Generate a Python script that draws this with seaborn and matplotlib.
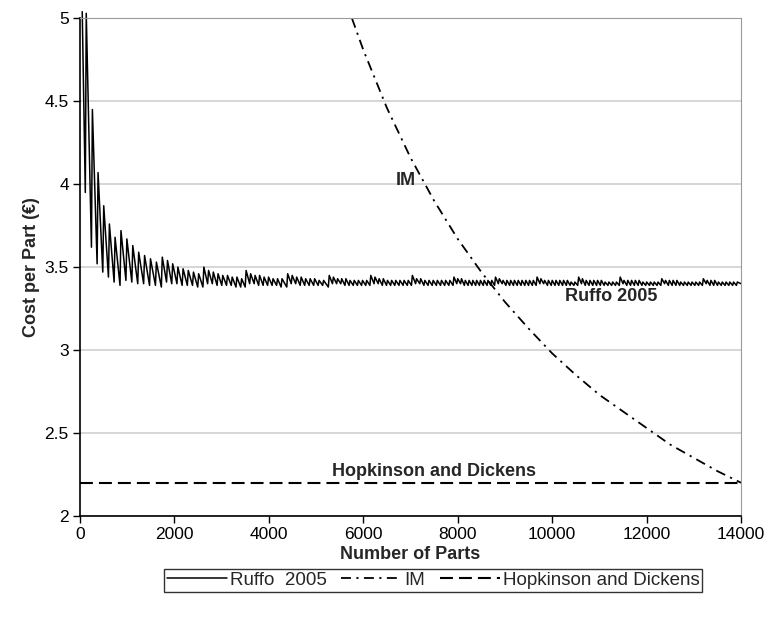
import numpy as np
import pandas as pd
import matplotlib
matplotlib.use("Agg")
import matplotlib.pyplot as plt
import seaborn as sns

# Injection moulding cost per part
im_parts = [5760, 6000, 6500, 7000, 7500, 8000, 8500, 9000, 9500, 10000,
            10500, 11000, 11500, 12000, 12500, 13000, 13500, 14000]
im_cost = [5.00, 4.81, 4.46, 4.16, 3.90, 3.67, 3.47, 3.29, 3.13, 2.98,
           2.85, 2.73, 2.63, 2.53, 2.43, 2.35, 2.27, 2.20]

# Hopkinson and Dickens (flat cost)
hd_parts = [0, 14000]
hd_cost = [2.20, 2.20]

# Ruffo 2005 sawtooth: one list per machine build, tooth start / peak / trough
ruffo_tooth_x = [
    [50, 135, 265, 385, 505, 625, 745],
    [870, 995, 1120, 1245, 1370, 1495, 1620],
    [1745, 1855, 1965, 2075, 2185, 2295, 2405, 2515],
    [2625, 2725, 2825, 2925, 3025, 3125, 3225, 3325, 3425],
    [3520, 3615, 3710, 3805, 3900, 3995, 4090, 4185, 4280],
    [4400, 4495, 4590, 4685, 4780, 4875, 4970, 5065, 5160],
    [5280, 5368, 5456, 5544, 5632, 5720, 5808, 5896, 5984, 6072],
    [6160, 6248, 6336, 6424, 6512, 6600, 6688, 6776, 6864, 6952],
    [7040, 7128, 7216, 7304, 7392, 7480, 7568, 7656, 7744, 7832],
    [7920, 8000, 8080, 8160, 8240, 8320, 8400, 8480, 8560, 8640, 8720],
    [8800, 8880, 8960, 9040, 9120, 9200, 9280, 9360, 9440, 9520, 9600],
    [9680, 9760, 9840, 9920, 10000, 10080, 10160, 10240, 10320, 10400, 10480],
    [10560, 10640, 10720, 10800, 10880, 10960, 11040, 11120, 11200, 11280, 11360],
    [11440, 11520, 11600, 11680, 11760, 11840, 11920, 12000, 12080, 12160, 12240],
    [12320, 12400, 12480, 12560, 12640, 12720, 12800, 12880, 12960, 13040, 13120],
    [13200, 13280, 13360, 13440, 13520, 13600, 13680, 13760, 13840, 13920],
]
ruffo_peak = [
    [5.04, 5.03, 4.45, 4.07, 3.87, 3.76, 3.68],
    [3.72, 3.67, 3.63, 3.59, 3.57, 3.55, 3.53],
    [3.56, 3.54, 3.52, 3.50, 3.49, 3.48, 3.47, 3.46],
    [3.50, 3.48, 3.47, 3.46, 3.45, 3.45, 3.44, 3.44, 3.43],
    [3.48, 3.46, 3.45, 3.45, 3.44, 3.44, 3.43, 3.43, 3.43],
    [3.46, 3.45, 3.44, 3.44, 3.43, 3.43, 3.43, 3.42, 3.42],
    [3.45, 3.44, 3.43, 3.43, 3.43, 3.42, 3.42, 3.42, 3.42, 3.42],
    [3.45, 3.44, 3.43, 3.43, 3.42, 3.42, 3.42, 3.42, 3.42, 3.42],
    [3.45, 3.43, 3.43, 3.42, 3.42, 3.42, 3.42, 3.42, 3.42, 3.42],
    [3.44, 3.43, 3.43, 3.42, 3.42, 3.42, 3.42, 3.42, 3.42, 3.42, 3.42],
    [3.44, 3.43, 3.42, 3.42, 3.42, 3.42, 3.42, 3.42, 3.42, 3.42, 3.42],
    [3.44, 3.43, 3.42, 3.42, 3.42, 3.42, 3.42, 3.42, 3.42, 3.41, 3.41],
    [3.44, 3.43, 3.42, 3.42, 3.42, 3.42, 3.42, 3.41, 3.41, 3.41, 3.41],
    [3.44, 3.42, 3.42, 3.42, 3.42, 3.42, 3.41, 3.41, 3.41, 3.41, 3.41],
    [3.43, 3.42, 3.42, 3.42, 3.42, 3.41, 3.41, 3.41, 3.41, 3.41, 3.41],
    [3.43, 3.42, 3.42, 3.42, 3.41, 3.41, 3.41, 3.41, 3.41, 3.41],
]
ruffo_trough = [
    [3.95, 3.62, 3.52, 3.47, 3.44, 3.41, 3.39],
    [3.42, 3.41, 3.40, 3.40, 3.39, 3.39, 3.38],
    [3.41, 3.40, 3.40, 3.39, 3.39, 3.39, 3.38, 3.38],
    [3.40, 3.40, 3.39, 3.39, 3.39, 3.39, 3.38, 3.38, 3.38],
    [3.40, 3.40, 3.39, 3.39, 3.39, 3.39, 3.39, 3.38, 3.38],
    [3.40, 3.40, 3.39, 3.39, 3.39, 3.39, 3.39, 3.39, 3.38],
    [3.40, 3.40, 3.40, 3.39, 3.39, 3.39, 3.39, 3.39, 3.39, 3.39],
    [3.40, 3.40, 3.39, 3.39, 3.39, 3.39, 3.39, 3.39, 3.39, 3.39],
    [3.40, 3.40, 3.39, 3.39, 3.39, 3.39, 3.39, 3.39, 3.39, 3.39],
    [3.40, 3.40, 3.39, 3.39, 3.39, 3.39, 3.39, 3.39, 3.39, 3.39, 3.39],
    [3.40, 3.40, 3.39, 3.39, 3.39, 3.39, 3.39, 3.39, 3.39, 3.39, 3.39],
    [3.40, 3.40, 3.39, 3.39, 3.39, 3.39, 3.39, 3.39, 3.39, 3.39, 3.39],
    [3.40, 3.39, 3.39, 3.39, 3.39, 3.39, 3.39, 3.39, 3.39, 3.39, 3.39],
    [3.40, 3.39, 3.39, 3.39, 3.39, 3.39, 3.39, 3.39, 3.39, 3.39, 3.39],
    [3.40, 3.39, 3.39, 3.39, 3.39, 3.39, 3.39, 3.39, 3.39, 3.39, 3.39],
    [3.40, 3.39, 3.39, 3.39, 3.39, 3.39, 3.39, 3.39, 3.39, 3.40],
]

# flatten builds into zigzag vertices (peak, then trough just before next tooth)
tx = [x for b in ruffo_tooth_x for x in b]
tp = [v for b in ruffo_peak for v in b]
tt = [v for b in ruffo_trough for v in b]
xs, ys = [], []
for i in range(len(tx)):
    x_end = tx[i + 1] - 20 if i + 1 < len(tx) else 14000
    xs += [tx[i], x_end]
    ys += [tp[i], tt[i]]
ruffo = pd.DataFrame({"parts": xs, "cost": ys})

sns.set_style("white")
plt.rcParams['font.family'] = ['Liberation Sans', 'DejaVu Sans']

fig, ax = plt.subplots(figsize=(7.68, 6.30), dpi=100)
fig.subplots_adjust(left=0.104, right=0.965, top=0.971, bottom=0.181)

sns.lineplot(data=ruffo, x="parts", y="cost", sort=False, estimator=None,
             color="black", lw=1.1, label="Ruffo  2005", ax=ax, clip_on=False)
sns.lineplot(x=im_parts, y=im_cost, color="black", lw=1.3,
             linestyle=(0, (5.5, 3, 1.2, 3)), label="IM", ax=ax)
sns.lineplot(x=hd_parts, y=hd_cost, color="black", lw=1.5,
             linestyle=(0, (6.2, 2.9)), label="Hopkinson and Dickens", ax=ax)

ax.set_xlim(0, 14000)
ax.set_ylim(2, 5)
ax.set_xticks(range(0, 14001, 2000))
yt = [2, 2.5, 3, 3.5, 4, 4.5, 5]
ax.set_yticks(yt)
ax.set_yticklabels(["2", "2.5", "3", "3.5", "4", "4.5", "5"])
ax.yaxis.grid(True, color="#cfcfcf", lw=1.2)
ax.set_axisbelow(True)
ax.tick_params(axis="both", labelsize=12.5, direction="out", length=5,
               width=1, left=True, bottom=True, colors="black", pad=3)
for s in ["left", "bottom"]:
    ax.spines[s].set_color("black")
    ax.spines[s].set_linewidth(1.2)
ax.spines["top"].set_color("#9a9a9a")
ax.spines["right"].set_color("#9a9a9a")

ax.set_xlabel("Number of Parts", fontsize=13, fontweight="bold", labelpad=3)
ax.set_ylabel("Cost per Part (€)", fontsize=13, fontweight="bold", labelpad=3)

ax.text(6900, 4.02, "IM", fontsize=13, fontweight="bold", ha="center", va="center")
ax.text(11250, 3.32, "Ruffo 2005", fontsize=13, fontweight="bold", ha="center", va="center")
ax.text(7500, 2.27, "Hopkinson and Dickens", fontsize=13, fontweight="bold",
        ha="center", va="center")

ax.get_legend().remove()
h, l = ax.get_legend_handles_labels()
leg = fig.legend(h, l, loc="center", bbox_to_anchor=(0.564, 0.079), ncol=3,
                 frameon=True, fancybox=False, edgecolor="black", fontsize=13.5,
                 handlelength=3.2, handletextpad=0.15, columnspacing=0.8,
                 borderpad=0.15, borderaxespad=0)
leg.get_frame().set_linewidth(1.0)

fig.savefig("out.png", dpi=100)
